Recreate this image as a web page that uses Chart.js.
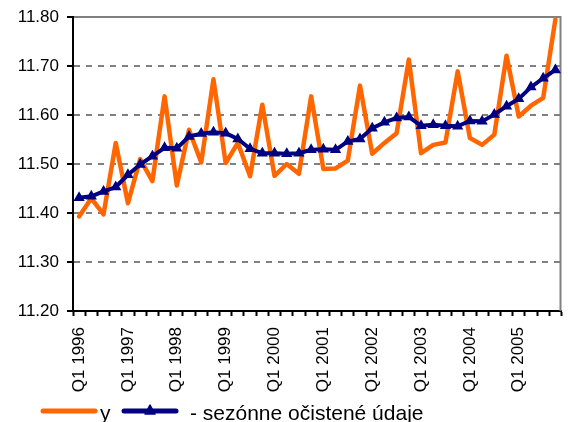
<!DOCTYPE html>
<html><head><meta charset="utf-8">
<script src="https://cdn.jsdelivr.net/npm/chart.js@4.4.1/dist/chart.umd.min.js"></script>
<style>html,body{margin:0;padding:0;background:#fff;}#c{display:block;}</style>
</head><body>
<canvas id="c" width="568" height="422"></canvas>
<script>
const years = [1996, 1997, 1998, 1999, 2000, 2001, 2002, 2003, 2004, 2005];
const quarters = ['Q1', 'Q2', 'Q3', 'Q4'];
const categories = [];
years.forEach(y => quarters.forEach(q => categories.push(q + ' ' + y)));

const seriesY = [
  11.393, 11.430, 11.397, 11.543,
  11.420, 11.510, 11.465, 11.638,
  11.456, 11.570, 11.503, 11.673,
  11.502, 11.543, 11.475, 11.621,
  11.476, 11.500, 11.480, 11.638,
  11.490, 11.491, 11.507, 11.660,
  11.521, 11.543, 11.563, 11.713,
  11.522, 11.539, 11.544, 11.689,
  11.553, 11.539, 11.560, 11.721,
  11.597, 11.619, 11.635, 11.795
];
const seriesSA = [
  11.431, 11.434, 11.444, 11.453,
  11.478, 11.499, 11.516, 11.533,
  11.532, 11.556, 11.562, 11.565,
  11.563, 11.551, 11.531, 11.522,
  11.522, 11.521, 11.522, 11.529,
  11.530, 11.529, 11.546, 11.551,
  11.573, 11.585, 11.594, 11.596,
  11.578, 11.580, 11.578, 11.577,
  11.588, 11.587, 11.601, 11.618,
  11.633, 11.657, 11.675, 11.692
];
const yTicks = [11.20, 11.30, 11.40, 11.50, 11.60, 11.70, 11.80];
const seriesNames = ['y', '- sezónne očistené údaje'];

const FAMILY = "'Liberation Sans', Arial, sans-serif";
const ORANGE = '#FF6600';
const NAVY = '#000080';

const framePlugin = {
  id: 'frame',
  beforeDatasetsDraw(chart) {
    const {ctx, chartArea: a} = chart;
    ctx.save();
    ctx.strokeStyle = '#808080';
    ctx.lineWidth = 2;
    ctx.beginPath();
    ctx.moveTo(a.left + 1, a.top);
    ctx.lineTo(a.right - 1, a.top);
    ctx.lineTo(a.right - 1, a.bottom);
    ctx.stroke();
    ctx.restore();
  }
};

const legendPlugin = {
  id: 'customLegend',
  afterDraw(chart) {
    const ctx = chart.ctx;
    const ly = 411;
    ctx.save();
    ctx.lineCap = 'round';
    ctx.lineWidth = 5;
    ctx.strokeStyle = ORANGE;
    ctx.beginPath(); ctx.moveTo(43, ly); ctx.lineTo(95, ly); ctx.stroke();
    ctx.strokeStyle = NAVY;
    ctx.beginPath(); ctx.moveTo(124, ly); ctx.lineTo(176, ly); ctx.stroke();
    ctx.fillStyle = NAVY;
    ctx.lineWidth = 1.5;
    ctx.lineJoin = 'round';
    ctx.beginPath();
    ctx.moveTo(150, ly - 6); ctx.lineTo(155, ly + 3); ctx.lineTo(145, ly + 3); ctx.closePath();
    ctx.fill(); ctx.stroke();
    ctx.fillStyle = '#000';
    ctx.font = '21px ' + FAMILY;
    ctx.textBaseline = 'alphabetic';
    ctx.textAlign = 'left';
    ctx.fillText(seriesNames[0], 100, 420);
    ctx.fillText(seriesNames[1], 190, 420);
    ctx.restore();
  }
};

new Chart(document.getElementById('c'), {
  type: 'line',
  data: {
    labels: categories,
    datasets: [
      {
        label: seriesNames[0],
        data: seriesY,
        borderColor: ORANGE,
        backgroundColor: ORANGE,
        borderWidth: 4.5,
        pointRadius: 0,
        tension: 0,
        borderJoinStyle: 'round',
        borderCapStyle: 'round',
        order: 2
      },
      {
        label: seriesNames[1],
        data: seriesSA,
        borderColor: NAVY,
        backgroundColor: NAVY,
        borderWidth: 4,
        pointStyle: 'triangle',
        pointRadius: 5,
        pointBorderWidth: 1.5,
        pointBorderColor: NAVY,
        pointBackgroundColor: NAVY,
        tension: 0,
        borderJoinStyle: 'round',
        order: 1
      }
    ]
  },
  options: {
    responsive: false,
    animation: false,
    devicePixelRatio: 1,
    layout: {padding: {left: 0, top: 17, right: 1, bottom: 0}},
    plugins: {legend: {display: false}, tooltip: {enabled: false}},
    scales: {
      x: {
        type: 'category',
        offset: true,
        grid: {
          offset: true,
          drawOnChartArea: false,
          drawTicks: true,
          tickColor: '#000',
          tickWidth: 2,
          tickLength: 5
        },
        border: {display: true, color: '#000', width: 2},
        ticks: {
          autoSkip: false,
          maxRotation: 90,
          minRotation: 90,
          padding: 11,
          color: '#000',
          font: {family: FAMILY, size: 17},
          callback: (val, i) => (i % 4 === 0 ? categories[i] : '')
        },
        afterFit(scale) {
          scale.height = 111;
          scale.paddingLeft = 0;
          scale.paddingRight = 0;
        }
      },
      y: {
        type: 'linear',
        min: 11.2,
        max: 11.8,
        afterBuildTicks(scale) {
          scale.ticks = yTicks.map(v => ({value: v}));
        },
        grid: {
          color: '#808080',
          lineWidth: 2,
          drawTicks: true,
          tickColor: '#000',
          tickWidth: 2,
          tickLength: 6
        },
        border: {display: true, color: '#000', width: 2, dash: [6, 6]},
        ticks: {
          padding: 8,
          color: '#000',
          font: {family: FAMILY, size: 17},
          callback: v => Number(v).toFixed(2)
        },
        afterFit(scale) {
          scale.width = 73;
          scale.paddingTop = 0;
          scale.paddingBottom = 0;
        }
      }
    }
  },
  plugins: [framePlugin, legendPlugin]
});
</script>
</body></html>
